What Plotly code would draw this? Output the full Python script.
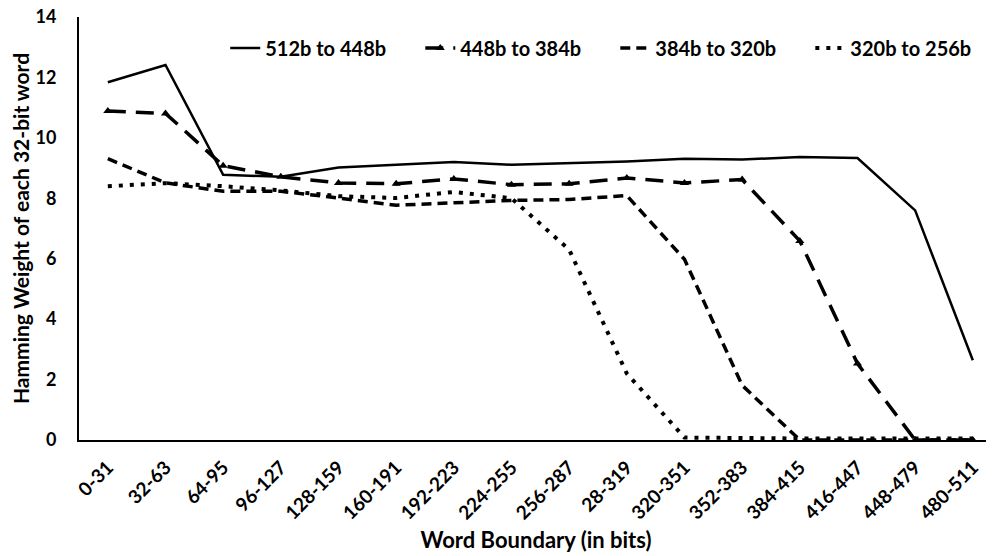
"""Hamming weight per 32-bit word for four truncation ranges."""

import plotly.graph_objects as go

word_bounds = [
    "0-31", "32-63", "64-95", "96-127", "128-159", "160-191", "192-223", "224-255",
    "256-287", "28-319", "320-351", "352-383", "384-415", "416-447", "448-479", "480-511",
]

series_names = ["512b to 448b", "448b to 384b", "384b to 320b", "320b to 256b"]

hw_512_448 = [11.84, 12.41, 8.78, 8.71, 9.02, 9.1, 9.2, 9.11, 9.17, 9.22, 9.31, 9.28, 9.37, 9.33, 7.6, 2.64]
hw_448_384 = [10.89, 10.81, 9.08, 8.71, 8.51, 8.48, 8.64, 8.45, 8.48, 8.67, 8.51, 8.62, 6.59, 2.53, 0.0, 0.0]
hw_384_320 = [9.31, 8.51, 8.23, 8.23, 8.01, 7.77, 7.85, 7.93, 7.96, 8.09, 5.98, 1.81, 0.0, 0.0, 0.0, 0.0]
hw_320_256 = [8.4, 8.5, 8.4, 8.26, 8.07, 8.01, 8.21, 8.0, 6.3, 2.2, 0.08, 0.05, 0.05, 0.05, 0.05, 0.05]

FONT = "Lato"
PAD = "\u00a0" * 6  # extra room between legend entries

fig = go.Figure()

fig.add_trace(go.Scatter(
    x=word_bounds, y=hw_512_448, name=series_names[0] + PAD, mode="lines",
    line=dict(color="black", width=2.5),
))
fig.add_trace(go.Scatter(
    x=word_bounds, y=hw_448_384, name=series_names[1] + PAD, mode="lines+markers",
    line=dict(color="black", width=3.5, dash="18px,10px"),
    marker=dict(symbol="triangle-up", size=8, color="black"),
))
fig.add_trace(go.Scatter(
    x=word_bounds, y=hw_384_320, name=series_names[2] + PAD, mode="lines",
    line=dict(color="black", width=3.5, dash="10px,6px"),
))
fig.add_trace(go.Scatter(
    x=word_bounds, y=hw_320_256, name=series_names[3], mode="lines",
    line=dict(color="black", width=4, dash="4px,7px"),
))

# page has an 8px body margin, so the margins below are shifted to compensate
fig.update_layout(
    width=994, height=556,
    margin=dict(l=71, r=9, t=9, b=124),
    plot_bgcolor="white", paper_bgcolor="white",
    font=dict(family=FONT, color="black", size=17, weight="bold"),
    showlegend=True,
    legend=dict(
        orientation="h", x=0.16, y=0.927, xanchor="left", yanchor="middle",
        font=dict(size=20, weight="bold"), bgcolor="rgba(0,0,0,0)",
    ),
    xaxis=dict(
        type="category", range=[-0.5, 15.35], automargin=False,
        showline=True, linecolor="black", linewidth=2,
        showgrid=False, ticks="", tickangle=-45,
        ticklabelstandoff=7, ticklabeloverflow="allow",
        tickfont=dict(size=19, weight="bold"),
        title=dict(text="Word Boundary (in bits)", font=dict(size=22, weight="bold"), standoff=10),
    ),
    yaxis=dict(
        range=[0, 14], dtick=2, automargin=False,
        showline=True, linecolor="black", linewidth=2,
        showgrid=False, zeroline=False, ticks="",
        ticklabelstandoff=17, ticklabeloverflow="allow",
        tickfont=dict(size=18, weight="bold"),
        title=dict(text="Hamming Weight of each 32-bit word", font=dict(size=21, weight="bold"), standoff=8),
    ),
)

fig.write_html("out.html")
